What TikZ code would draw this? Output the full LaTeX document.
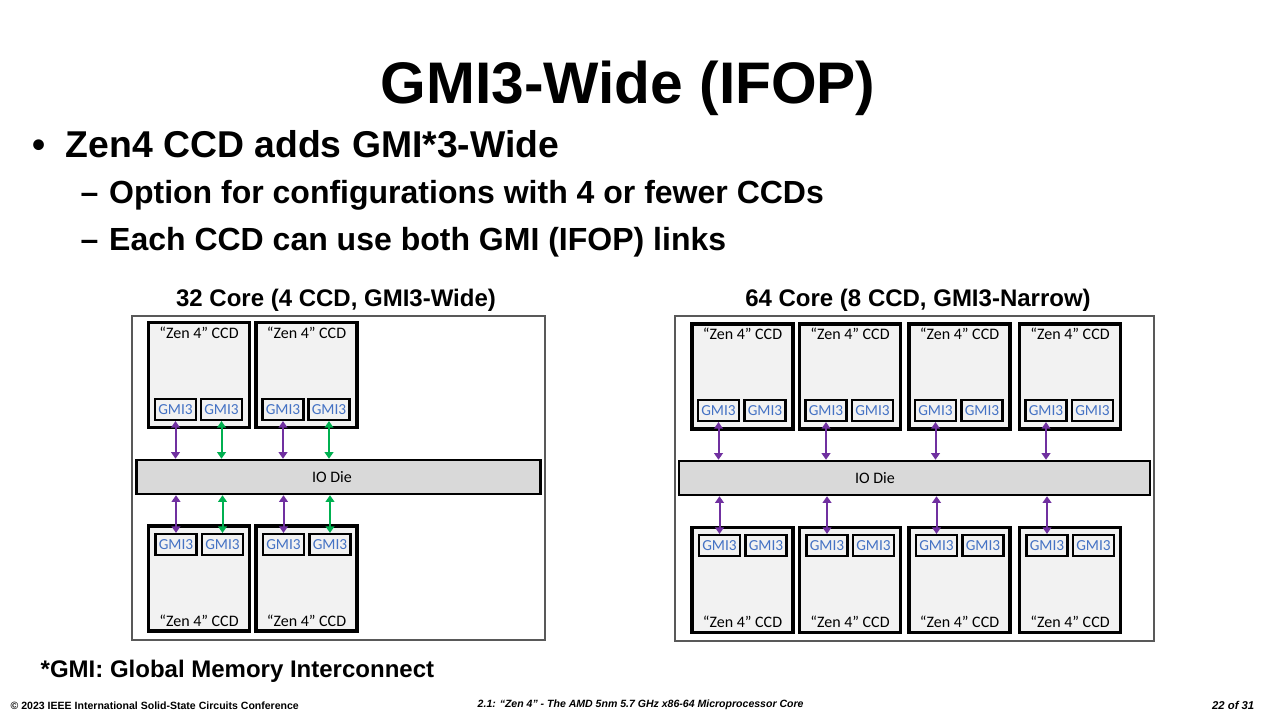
\documentclass[tikz,border=0pt]{standalone}
\usepackage{fontspec}
\setmainfont{Liberation Sans}
\newfontfamily\calibri{Carlito}
\usepackage{xcolor}
\usetikzlibrary{arrows.meta}
\definecolor{framegray}{HTML}{595959}
\definecolor{ccdfill}{HTML}{F2F2F2}
\definecolor{iofill}{HTML}{D9D9D9}
\definecolor{gmiblue}{HTML}{4472C4}
\definecolor{linkpurple}{HTML}{7030A0}
\definecolor{linkgreen}{HTML}{00B050}

\begin{document}
\begin{tikzpicture}[x=0.75pt,y=-0.75pt,
	ccd/.style={draw,line width=2.6pt,fill=ccdfill,minimum width=76pt,minimum height=79pt,inner sep=0pt},
	gmi/.style={draw,line width=1.8pt,fill=ccdfill,minimum width=31pt,minimum height=15.5pt,inner sep=0pt,text=gmiblue,font=\calibri\fontsize{11.5}{11.5}\selectfont},
	iodie/.style={draw,line width=1.8pt,fill=iofill,minimum height=25.5pt,inner sep=0pt},
	lbl/.style={font=\calibri\fontsize{12}{12}\selectfont},
	link/.style={line width=1.5pt,{Triangle[width=6.5pt,length=5pt]}-{Triangle[width=6.5pt,length=5pt]}},
	head/.style={anchor=base west,font=\bfseries\fontsize{24}{24}\selectfont}]
	\useasboundingbox[fill=white] (0,0) rectangle (1280,720);

	\node[anchor=base,font=\bfseries\fontsize{44}{44}\selectfont] (title) at (628,104) {GMI3-Wide (IFOP)};
	\node[anchor=base west,font=\bfseries\fontsize{28}{28}\selectfont] (b1) at (28,158) {\textbullet\hspace{15pt}Zen4 CCD adds GMI*3-Wide};
	\node[head] (b2) at (76,204) {–\hspace{8pt}Option for configurations with 4 or fewer CCDs};
	\node[head] (b3) at (76,250) {–\hspace{8pt}Each CCD can use both GMI (IFOP) links};

	\node[anchor=base,font=\bfseries\fontsize{18}{18}\selectfont] (cap-l) at (336,306) {32 Core (4 CCD, GMI3-Wide)};
	\node[anchor=base,font=\bfseries\fontsize{18}{18}\selectfont] (cap-r) at (918,306) {64 Core (8 CCD, GMI3-Narrow)};

	\draw[framegray,line width=1.5pt] (132,316) rectangle (545,640);
	\draw[framegray,line width=1.5pt] (675,316) rectangle (1154,641);

	\node[iodie,minimum width=303pt] (io-l) at (338.5,477) {};
	\node[lbl] (io-l-t) at (332,477) {IO Die};
	\node[iodie,minimum width=353pt] (io-r) at (914.5,478) {};
	\node[lbl] (io-r-t) at (875,478) {IO Die};

	\foreach \n/\x in {1/199,2/306.5}{
		\node[ccd] (l-t\n) at (\x,375) {};
		\node[lbl] at (\x,333) {“Zen 4” CCD};
		\node[gmi] (l-t\n-a) at (\x-23.5,409.5) {GMI3};
		\node[gmi] (l-t\n-b) at (\x+22.5,409.5) {GMI3};
		\node[ccd] (l-b\n) at (\x,578.5) {};
		\node[lbl] at (\x,621) {“Zen 4” CCD};
		\node[gmi] (l-b\n-a) at (\x-23,544.5) {GMI3};
		\node[gmi] (l-b\n-b) at (\x+23.5,544.5) {GMI3};
		\draw[link,linkpurple] (l-t\n-a.south) -- (l-t\n-a.south |- io-l.north);
		\draw[link,linkgreen] (l-t\n-b.south) -- (l-t\n-b.south |- io-l.north);
		\draw[link,linkpurple] (io-l.south -| l-b\n-a.north) -- (l-b\n-a.north);
		\draw[link,linkgreen] (io-l.south -| l-b\n-b.north) -- (l-b\n-b.north);
	}

	\foreach \n/\x in {1/742.5,2/850,3/959.5,4/1070}{
		\node[ccd] (r-t\n) at (\x,376.5) {};
		\node[lbl] at (\x,334) {“Zen 4” CCD};
		\node[gmi] (r-t\n-a) at (\x-24,410.5) {GMI3};
		\node[gmi] (r-t\n-b) at (\x+22.5,410.5) {GMI3};
		\node[ccd] (r-b\n) at (\x,580) {};
		\node[lbl] at (\x,622) {“Zen 4” CCD};
		\node[gmi] (r-b\n-a) at (\x-23,545.5) {GMI3};
		\node[gmi] (r-b\n-b) at (\x+23.5,545.5) {GMI3};
		\draw[link,linkpurple] (r-t\n-a.south) -- (r-t\n-a.south |- io-r.north);
		\draw[link,linkpurple] (io-r.south -| r-b\n-a.north) -- (r-b\n-a.north);
	}

	\node[anchor=base west,font=\bfseries\fontsize{18}{18}\selectfont] (note) at (36,677) {*GMI: Global Memory Interconnect};
	\node[anchor=base west,font=\bfseries\fontsize{7.9}{7.9}\selectfont] (foot-l) at (6,709) {© 2023 IEEE International Solid-State Circuits Conference};
	\node[anchor=base west,font=\bfseries\itshape\fontsize{7.9}{7.9}\selectfont] (foot-c) at (473,707) {2.1: “Zen 4” - The AMD 5nm 5.7 GHz x86-64 Microprocessor Core};
	\node[anchor=base east,font=\bfseries\itshape\fontsize{8.5}{8.5}\selectfont] (foot-r) at (1259,709) {22 of 31};
\end{tikzpicture}
\end{document}
